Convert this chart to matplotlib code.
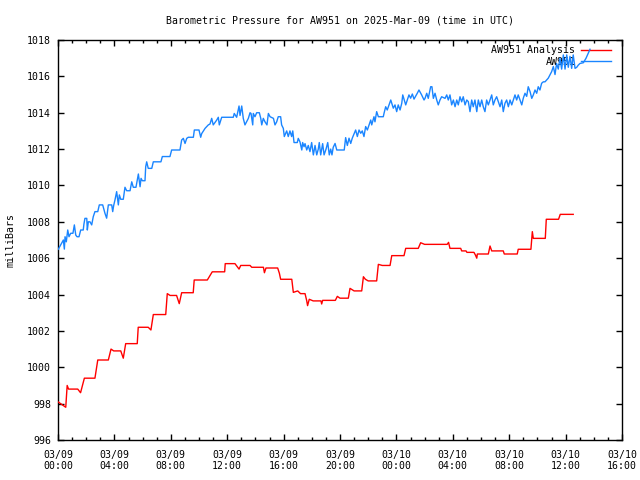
import matplotlib
matplotlib.use("Agg")
import matplotlib.pyplot as plt
from matplotlib.ticker import MultipleLocator

plt.rcParams['font.family'] = ['DejaVu Sans Mono']

title = "Barometric Pressure for AW951 on 2025-Mar-09 (time in UTC)"
ylabel = "milliBars"
xtick_hours = [0, 4, 8, 12, 16, 20, 24, 28, 32, 36, 40]
xtick_labels = ["03/09\n00:00", "03/09\n04:00", "03/09\n08:00", "03/09\n12:00",
                "03/09\n16:00", "03/09\n20:00", "03/10\n00:00", "03/10\n04:00",
                "03/10\n08:00", "03/10\n12:00", "03/10\n16:00"]

# AW951 Analysis (hours since 03/09 00:00 UTC, mbar)
ana_t = [0.0, 0.55, 0.65, 0.75, 1.40, 1.60, 1.87, 2.62, 2.82, 3.57, 3.76, 3.95, 4.45, 4.63,
         4.80, 5.62, 5.69, 6.40, 6.59, 6.76, 7.64, 7.75, 7.95, 8.41, 8.60, 8.77, 9.59, 9.66,
         10.59, 10.94, 11.82, 11.86, 12.55, 12.84, 12.96, 13.62, 13.74, 14.57, 14.64, 14.75,
         15.58, 15.70, 15.79, 16.58, 16.69, 17.0, 17.2, 17.52, 17.64, 17.70, 17.82, 18.1,
         18.65, 18.70, 18.77, 19.67, 19.81, 20.0, 20.59, 20.71, 21.0, 21.54, 21.66, 21.8,
         22.0, 22.6, 22.72, 23.0, 23.55, 23.67, 24.54, 24.66, 25.55, 25.72, 26.0, 27.6,
         27.7, 27.8, 28.56, 28.63, 28.94, 29.0, 29.5, 29.6, 29.7, 29.74, 30.52, 30.64,
         30.76, 31.58, 31.65, 32.57, 32.64, 33.54, 33.64, 33.71, 34.56, 34.63, 35.5, 35.62,
         36.54]
ana_v = [998.1, 997.8, 999.0, 998.8, 998.8, 998.6, 999.4, 999.4, 1000.4, 1000.4, 1001.0,
         1000.9, 1000.9, 1000.5, 1001.3, 1001.3, 1002.2, 1002.2, 1002.05, 1002.9, 1002.9,
         1004.05, 1003.95, 1003.95, 1003.5, 1004.1, 1004.1, 1004.8, 1004.8, 1005.25,
         1005.25, 1005.7, 1005.7, 1005.4, 1005.6, 1005.6, 1005.5, 1005.5, 1005.2, 1005.46,
         1005.46, 1005.17, 1004.84, 1004.84, 1004.12, 1004.2, 1004.05, 1004.05, 1003.66,
         1003.39, 1003.74, 1003.65, 1003.65, 1003.48, 1003.68, 1003.68, 1003.9, 1003.8,
         1003.8, 1004.34, 1004.2, 1004.2, 1004.98, 1004.84, 1004.75, 1004.75, 1005.66,
         1005.6, 1005.6, 1006.14, 1006.14, 1006.54, 1006.54, 1006.85, 1006.76, 1006.76,
         1006.87, 1006.54, 1006.54, 1006.4, 1006.4, 1006.32, 1006.32, 1006.18, 1006.0,
         1006.23, 1006.23, 1006.67, 1006.4, 1006.4, 1006.23, 1006.23, 1006.49, 1006.49,
         1007.46, 1007.09, 1007.09, 1008.14, 1008.14, 1008.41, 1008.41]

# AW951 observed
obs_t = [0.02, 0.38, 0.45, 0.50, 0.59, 0.69, 0.78, 0.90, 1.06, 1.16, 1.26, 1.35, 1.49, 1.61,
         1.79, 1.84, 1.91, 2.04, 2.08, 2.15, 2.27, 2.39, 2.50, 2.62, 2.82, 2.93, 3.17, 3.33,
         3.45, 3.57, 3.81, 3.88, 3.95, 4.04, 4.16, 4.28, 4.35, 4.45, 4.63, 4.75, 4.87, 5.11,
         5.23, 5.34, 5.53, 5.70, 5.82, 5.89, 5.98, 6.17, 6.22, 6.29, 6.40, 6.65, 6.76, 7.30,
         7.40, 7.94, 8.06, 8.65, 8.77, 8.89, 9.01, 9.13, 9.24, 9.60, 9.67, 10.0, 10.12,
         10.19, 10.43, 10.66, 10.78, 10.90, 11.01, 11.26, 11.37, 11.44, 11.61, 12.43, 12.50,
         12.67, 12.84, 12.91, 13.03, 13.14, 13.26, 13.50, 13.62, 13.69, 13.81, 13.85, 13.97,
         14.09, 14.28, 14.38, 14.45, 14.56, 14.68, 14.82, 14.92, 15.04, 15.28, 15.39, 15.51,
         15.62, 15.79, 15.86, 15.98, 16.05, 16.22, 16.33, 16.45, 16.57, 16.65, 16.74, 16.97,
         17.04, 17.16, 17.29, 17.35, 17.45, 17.52, 17.64, 17.75, 17.87, 17.99, 18.11, 18.23,
         18.35, 18.46, 18.53, 18.63, 18.77, 18.87, 19.01, 19.13, 19.24, 19.34, 19.43, 19.52,
         19.65, 19.77, 20.30, 20.40, 20.52, 20.64, 20.76, 20.87, 21.01, 21.11, 21.23, 21.35,
         21.47, 21.58, 21.70, 21.82, 21.94, 22.06, 22.18, 22.25, 22.41, 22.48, 22.60, 22.72,
         23.07, 23.12, 23.24, 23.35, 23.48, 23.60, 23.71, 23.78, 23.90, 24.02, 24.13, 24.26,
         24.38, 24.45, 24.54, 24.66, 24.77, 24.89, 25.01, 25.13, 25.25, 25.48, 25.60, 25.79,
         25.96, 26.03, 26.15, 26.26, 26.38, 26.43, 26.52, 26.62, 26.74, 26.86, 26.97, 27.09,
         27.21, 27.45, 27.57, 27.68, 27.80, 27.92, 28.04, 28.16, 28.28, 28.39, 28.51, 28.63,
         28.74, 28.87, 28.99, 29.10, 29.22, 29.34, 29.45, 29.57, 29.70, 29.81, 29.93, 30.05,
         30.16, 30.28, 30.40, 30.52, 30.64, 30.76, 30.87, 30.99, 31.11, 31.23, 31.35, 31.47,
         31.58, 31.70, 31.82, 31.94, 32.06, 32.18, 32.29, 32.41, 32.53, 32.64, 32.77, 32.89,
         33.0, 33.12, 33.24, 33.35, 33.48, 33.60, 33.71, 33.83, 33.95, 34.06, 34.18, 34.30,
         34.42, 34.54, 34.66, 34.77, 34.89, 35.01, 35.13, 35.25, 35.36, 35.48, 35.60, 35.72,
         35.84, 35.96, 36.08, 36.19, 36.31, 36.43, 36.54, 36.67, 36.79, 36.90, 37.02, 37.26,
         37.45, 37.73]
obs_v = [1006.49, 1007.0, 1006.5, 1007.18, 1006.9, 1007.55, 1007.18, 1007.37, 1007.37,
         1007.83, 1007.27, 1007.18, 1007.18, 1007.55, 1007.55, 1007.88, 1008.19, 1008.19,
         1007.55, 1008.0, 1008.0, 1007.83, 1008.28, 1008.56, 1008.56, 1008.93, 1008.93,
         1008.47, 1008.2, 1008.93, 1008.93, 1008.56, 1008.9, 1009.2, 1009.66, 1008.93,
         1009.48, 1009.24, 1009.24, 1009.9, 1009.71, 1009.71, 1010.2, 1009.9, 1009.9,
         1010.63, 1009.93, 1010.39, 1010.26, 1010.26, 1011.03, 1011.3, 1010.94, 1010.94,
         1011.3, 1011.3, 1011.59, 1011.59, 1011.95, 1011.95, 1012.5, 1012.59, 1012.31,
         1012.59, 1012.65, 1012.65, 1013.05, 1013.05, 1012.65, 1012.85, 1013.14, 1013.33,
         1013.38, 1013.69, 1013.33, 1013.6, 1013.75, 1013.33, 1013.75, 1013.75, 1013.96,
         1013.75, 1014.37, 1013.85, 1014.37, 1013.69, 1013.33, 1013.69, 1014.0, 1013.96,
         1013.33, 1013.96, 1013.78, 1014.0, 1014.0, 1013.69, 1013.33, 1013.69, 1013.5,
         1013.33, 1013.96, 1013.78, 1013.69, 1013.33, 1013.5, 1013.78, 1013.78, 1013.33,
         1013.14, 1012.69, 1013.0, 1012.69, 1013.0, 1012.69, 1013.0, 1012.36, 1012.36,
         1012.59, 1012.4, 1011.95, 1012.36, 1012.13, 1012.3, 1011.95, 1012.2, 1011.86,
         1012.36, 1011.68, 1012.2, 1011.68, 1012.0, 1012.36, 1011.68, 1012.3, 1011.68,
         1012.0, 1012.36, 1011.68, 1012.0, 1011.68, 1012.1, 1012.31, 1011.95, 1011.95,
         1012.63, 1012.2, 1012.6, 1012.31, 1012.6, 1012.87, 1013.05, 1012.69, 1013.05,
         1012.87, 1013.0, 1012.69, 1013.24, 1013.05, 1013.33, 1013.6, 1013.33, 1013.78,
         1013.5, 1014.06, 1013.78, 1013.78, 1013.96, 1014.33, 1014.15, 1014.43, 1014.7,
         1014.43, 1014.25, 1014.43, 1014.06, 1014.43, 1014.15, 1014.52, 1014.98, 1014.75,
         1014.43, 1014.7, 1014.98, 1014.8, 1015.03, 1014.75, 1015.07, 1015.25, 1014.98,
         1014.7, 1014.79, 1015.07, 1014.79, 1015.25, 1015.43, 1015.43, 1014.79, 1015.07,
         1014.7, 1014.43, 1014.7, 1014.88, 1014.79, 1014.98, 1014.7, 1014.98, 1014.43,
         1014.7, 1014.33, 1014.7, 1014.43, 1014.88, 1014.6, 1014.88, 1014.43, 1014.7,
         1014.61, 1014.06, 1014.7, 1014.33, 1014.7, 1014.06, 1014.7, 1014.33, 1014.7,
         1014.33, 1014.06, 1014.7, 1014.43, 1014.7, 1014.98, 1014.43, 1014.7, 1014.88,
         1014.6, 1014.33, 1014.7, 1014.06, 1014.52, 1014.7, 1014.33, 1014.7, 1014.43,
         1014.7, 1014.98, 1014.7, 1014.98, 1014.7, 1014.43, 1014.8, 1015.07, 1014.9,
         1015.43, 1015.16, 1014.79, 1014.98, 1015.25, 1015.07, 1015.43, 1015.25, 1015.62,
         1015.7, 1015.7, 1015.8, 1015.9, 1016.08, 1016.26, 1016.54, 1016.1, 1016.71,
         1016.4, 1017.0, 1016.4, 1017.18, 1016.4, 1017.18, 1016.5, 1017.1, 1016.44,
         1017.18, 1016.44, 1016.5, 1016.62, 1016.71, 1016.75, 1017.0, 1017.49]

fig = plt.figure(figsize=(6.4, 4.8), dpi=100)
ax = fig.add_axes([58/640, 40/480, 564/640, 400/480])

ax.plot(ana_t, ana_v, color='#ff0000', lw=1.0, label='AW951 Analysis', zorder=3)
ax.plot(obs_t, obs_v, color='#1a85ff', lw=1.0, label='AW951', zorder=3)

ax.set_xlim(0, 40)
ax.set_ylim(996, 1018)
ax.set_xticks(xtick_hours)
ax.set_xticklabels(xtick_labels)
ax.xaxis.set_minor_locator(MultipleLocator(1))
ax.yaxis.set_major_locator(MultipleLocator(2))
ax.tick_params(which='both', direction='in', top=True, right=True, labelsize=7.1,
               width=1, color='black')
ax.tick_params(which='major', length=4.5)
ax.tick_params(axis='x', which='major', pad=7)
ax.tick_params(axis='y', which='major', pad=5)
ax.tick_params(which='minor', length=2.3)
for s in ax.spines.values():
    s.set_linewidth(1)

ax.set_title(title, fontsize=7.1, pad=12)
ax.set_ylabel(ylabel, fontsize=7.1, labelpad=8)

leg = ax.legend(loc='upper right', bbox_to_anchor=(0.99, 1.0), frameon=False,
                markerfirst=False, fontsize=7.1, handlelength=3.0,
                handletextpad=0.6, labelspacing=0.15, borderaxespad=0.15)
leg.set_zorder(1)

fig.savefig('out.png', dpi=100)
